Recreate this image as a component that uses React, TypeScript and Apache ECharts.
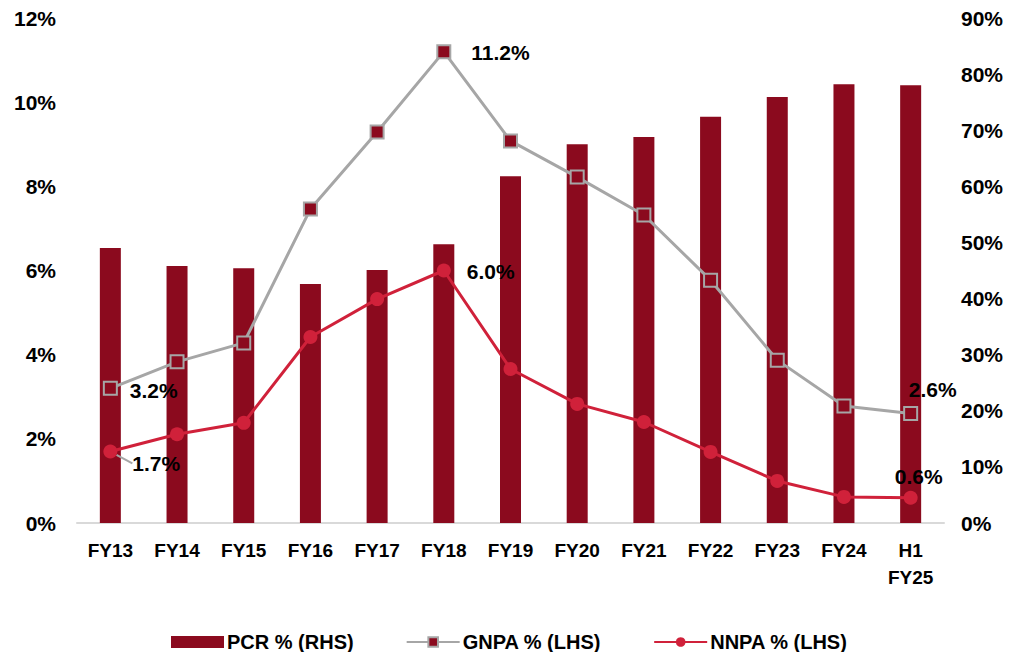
import React, { useEffect, useRef } from "react";
import * as echarts from "echarts";

const categories = ["FY13", "FY14", "FY15", "FY16", "FY17", "FY18", "FY19", "FY20", "FY21", "FY22", "FY23", "FY24", "H1\nFY25"];
const pcr = [49.0, 45.8, 45.4, 42.6, 45.1, 49.7, 61.8, 67.5, 68.8, 72.4, 75.9, 78.2, 78.0];
const gnpa = [3.2, 3.83, 4.28, 7.46, 9.29, 11.2, 9.08, 8.22, 7.32, 5.77, 3.87, 2.78, 2.6];
const nnpa = [1.7, 2.11, 2.38, 4.42, 5.32, 6.0, 3.66, 2.83, 2.4, 1.69, 1.0, 0.62, 0.6];

const FONT = "Liberation Sans, Arial, sans-serif";
const DARK = "#8B0A1E";
const GRAY = "#A6A6A6";
const RED = "#D0213A";

const labelStyle = { fontFamily: FONT, fontWeight: "bold" as const, fontSize: 21, color: "#000" };

export default function App() {
  const ref = useRef<HTMLDivElement>(null);
  useEffect(() => {
    const chart = echarts.init(ref.current!, undefined, { renderer: "svg" });
    const gnpaData = gnpa.map((v, i) => {
      const d: any = { value: v };
      if (i === 0) d.label = { show: true, position: "right", offset: [7, 2] };
      if (i === 5) d.label = { show: true, position: "right", offset: [15, 1] };
      if (i === 12) d.label = { show: true, position: "top", offset: [22, -1] };
      return d;
    });
    const nnpaData = nnpa.map((v, i) => {
      const d: any = { value: v };
      if (i === 0) {
        d.label = { show: true, position: "right" };
        d.labelLine = { show: true, lineStyle: { color: GRAY, width: 2 } };
      }
      if (i === 5) d.label = { show: true, position: "right" };
      if (i === 12) d.label = { show: true, position: "top" };
      return d;
    });
    const nnpaShift: Record<number, { dx: number; dy: number }> = {
      0: { dx: 10, dy: 12 },
      5: { dx: 11, dy: 1 },
      12: { dx: 8, dy: 1 },
    };
    chart.setOption({
      animation: false,
      grid: { left: 77, right: 69, top: 18, bottom: 129, containLabel: false },
      legend: {
        top: 627,
        left: 166,
        itemGap: 52,
        itemWidth: 53,
        itemHeight: 12,
        textStyle: { ...labelStyle, fontSize: 20, padding: [0, 0, 0, -2] },
        data: [
          { name: "PCR % (RHS)", icon: "rect" },
          { name: "GNPA % (LHS)" },
          { name: "NNPA % (LHS)" },
        ],
      },
      xAxis: {
        type: "category",
        data: categories,
        axisLine: { lineStyle: { color: "#D9D9D9", width: 2 } },
        axisTick: { show: false },
        axisLabel: { ...labelStyle, fontSize: 19, margin: 14, lineHeight: 27 },
      },
      yAxis: [
        {
          type: "value",
          min: 0,
          max: 12,
          interval: 2,
          splitLine: { show: false },
          axisLine: { show: false },
          axisLabel: { ...labelStyle, fontSize: 21, margin: 21, formatter: (v: number) => v + "%" },
        },
        {
          type: "value",
          min: 0,
          max: 90,
          interval: 10,
          splitLine: { show: false },
          axisLine: { show: false },
          axisLabel: { ...labelStyle, fontSize: 21, margin: 17, formatter: (v: number) => v + "%" },
        },
      ],
      series: [
        {
          name: "PCR % (RHS)",
          type: "bar",
          yAxisIndex: 1,
          data: pcr,
          barWidth: 21,
          itemStyle: { color: DARK },
        },
        {
          name: "GNPA % (LHS)",
          type: "line",
          yAxisIndex: 0,
          data: gnpaData,
          symbol: "rect",
          symbolSize: 13,
          lineStyle: { color: GRAY, width: 3 },
          itemStyle: { color: DARK, borderColor: GRAY, borderWidth: 2 },
          label: { ...labelStyle, formatter: (p: any) => p.value.toFixed(1) + "%" },
          z: 3,
        },
        {
          name: "NNPA % (LHS)",
          type: "line",
          yAxisIndex: 0,
          data: nnpaData,
          symbol: "circle",
          symbolSize: 14,
          lineStyle: { color: RED, width: 3 },
          itemStyle: { color: RED },
          label: { ...labelStyle, formatter: (p: any) => p.value.toFixed(1) + "%" },
          labelLine: { show: false },
          labelLayout: (params: any) => nnpaShift[params.dataIndex] || {},
          z: 4,
        },
      ],
    });
    return () => chart.dispose();
  }, []);
  return <div ref={ref} style={{ width: 1013, height: 652, position: "absolute", left: 0, top: 0, background: "#fff" }} />;
}
